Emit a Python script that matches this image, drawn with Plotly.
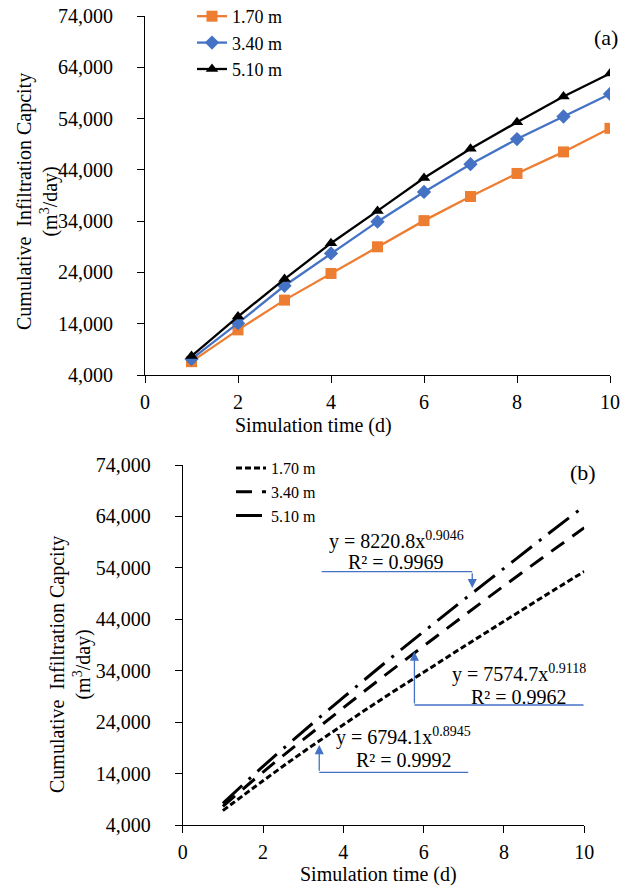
import plotly.graph_objects as go

# ---------------- data ----------------
days = [1, 2, 3, 4, 5, 6, 7, 8, 9, 10]
series_names = ["1.70 m", "3.40 m", "5.10 m"]

# panel (a): simulated cumulative infiltration capacity (m3/day)
cap_170 = [6600, 12800, 18600, 23800, 29000, 34100, 38800, 43300, 47500, 52100]
cap_340 = [7100, 14100, 21400, 27700, 33900, 39700, 45100, 50000, 54400, 58800]
cap_510 = [7700, 15400, 22700, 29700, 36000, 42400, 48100, 53300, 58300, 62800]

# panel (b): power trendlines
trend_170 = [6800, 12600, 18200, 23500, 28700, 33700, 38700, 43600, 48500, 53300]
trend_340 = [7600, 14300, 20600, 26800, 32900, 38800, 44700, 50500, 56200, 61800]
trend_510 = [8200, 15400, 22200, 28800, 35300, 41600, 47800, 53900, 60000, 66000]

eq_texts = ["y = 6794.1x<sup>0.8945</sup>", "y = 7574.7x<sup>0.9118</sup>", "y = 8220.8x<sup>0.9046</sup>"]
r2_texts = ["R² = 0.9992", "R² = 0.9962", "R² = 0.9969"]

y_ticks = [4000, 14000, 24000, 34000, 44000, 54000, 64000, 74000]
x_ticks = [0, 2, 4, 6, 8, 10]

FONT = "Liberation Serif, Times New Roman, serif"
ORANGE = "#ED7D31"
BLUE = "#4472C4"
W, H = 632, 886

fig = go.Figure()

# ---------------- panel (a) ----------------
for vals, name, color, sym, size in [
    (cap_170, series_names[0], ORANGE, "square", 11),
    (cap_340, series_names[1], BLUE, "diamond", 11),
    (cap_510, series_names[2], "black", "triangle-up", 11),
]:
    fig.add_trace(go.Scatter(
        x=days, y=vals, name=name, mode="lines+markers",
        line=dict(color=color, width=2.3),
        marker=dict(symbol=sym, size=size, color=color),
        xaxis="x", yaxis="y", legend="legend",
    ))

# ---------------- panel (b) ----------------
for vals, name, dash in [
    (trend_170, series_names[0], "6px,3px"),
    (trend_340, series_names[1], "16px,10px"),
    (trend_510, series_names[2], "26px,9px,3px,9px"),
]:
    fig.add_trace(go.Scatter(
        x=days, y=vals, name=name, mode="lines",
        line=dict(color="black", width=3, dash=dash, shape="spline"),
        xaxis="x2", yaxis="y2", legend="legend2",
    ))

axis_common = dict(
    showline=True, linecolor="black", linewidth=1, ticks="outside",
    ticklen=7, tickcolor="black", showgrid=False, zeroline=False,
    automargin=False,
    tickfont=dict(family=FONT, size=20, color="black"),
)


def px_x(p):
    return p / W


def px_y(p):
    return (H - p) / H


fig.update_layout(
    width=W, height=H,
    margin=dict(l=0, r=0, t=0, b=0, pad=0, autoexpand=False),
    paper_bgcolor="white", plot_bgcolor="white",
    font=dict(family=FONT, size=20, color="black"),
    xaxis=dict(domain=[px_x(145), px_x(610)], range=[0, 10], tickvals=x_ticks,
               anchor="y", ticklabelstandoff=2, **axis_common),
    yaxis=dict(domain=[px_y(375), px_y(16)], range=[4000, 74000],
               tickvals=y_ticks, tickformat=",", anchor="x", ticklabelstandoff=20,
               **axis_common),
    xaxis2=dict(domain=[px_x(182.7), px_x(584.3)], range=[0, 10], tickvals=x_ticks,
                anchor="y2", ticklabelstandoff=2, **axis_common),
    yaxis2=dict(domain=[px_y(825), px_y(465)], range=[4000, 74000],
                tickvals=y_ticks, tickformat=",", anchor="x2", ticklabelstandoff=20,
                **axis_common),
    legend=dict(x=px_x(192), y=px_y(-2), xanchor="left", yanchor="top",
                bgcolor="rgba(0,0,0,0)", font=dict(family=FONT, size=18),
                tracegroupgap=0),
    legend2=dict(x=px_x(231), y=px_y(451), xanchor="left", yanchor="top",
                 bgcolor="rgba(0,0,0,0)", font=dict(family=FONT, size=16),
                 tracegroupgap=0),
    showlegend=True,
)

ytitle = "Cumulative  Infiltration Capcity<br>(m<sup>3</sup>/day)"
annotations = [
    dict(text=ytitle, x=px_x(37), y=px_y(202), xref="paper", yref="paper",
         textangle=-90, showarrow=False, xanchor="center", yanchor="middle",
         font=dict(family=FONT, size=20)),
    dict(text=ytitle, x=px_x(70), y=px_y(665), xref="paper", yref="paper",
         textangle=-90, showarrow=False, xanchor="center", yanchor="middle",
         font=dict(family=FONT, size=20)),
    dict(text="Simulation time (d)", x=px_x(313), y=px_y(425), xref="paper",
         yref="paper", showarrow=False, xanchor="center", yanchor="middle",
         font=dict(family=FONT, size=20)),
    dict(text="Simulation time (d)", x=px_x(378), y=px_y(874), xref="paper",
         yref="paper", showarrow=False, xanchor="center", yanchor="middle",
         font=dict(family=FONT, size=20)),
    dict(text="(a)", x=px_x(606), y=px_y(37), xref="paper", yref="paper",
         showarrow=False, xanchor="center", yanchor="middle", font=dict(family=FONT, size=22)),
    dict(text="(b)", x=px_x(583), y=px_y(472), xref="paper", yref="paper",
         showarrow=False, xanchor="center", yanchor="middle", font=dict(family=FONT, size=22)),
]

# equation labels in panel (b): (x, eq y, r2 y) in data units
label_pos = [(5.51, 21200, 16650), (8.37, 33550, 28900), (5.32, 59400, 55150)]
for (lx, ey, ry), eq, r2 in zip(label_pos, eq_texts, r2_texts):
    annotations.append(dict(text=eq, x=lx, y=ey, xref="x2", yref="y2", showarrow=False,
                            xanchor="center", yanchor="middle", font=dict(family=FONT, size=20)))
    annotations.append(dict(text=r2, x=lx, y=ry, xref="x2", yref="y2", showarrow=False,
                            xanchor="center", yanchor="middle", font=dict(family=FONT, size=20)))

# leader connectors: (horizontal start x, elbow x, elbow y, arrow tip y)
leaders = [(7.11, 3.40, 14250, 19550), (9.98, 5.77, 27330, 37700), (3.46, 7.21, 53250, 50080)]
shapes = []
for hx, ex, ey, ty in leaders:
    shapes.append(dict(type="line", xref="x2", yref="y2", x0=hx, x1=ex, y0=ey, y1=ey,
                       line=dict(color=BLUE, width=1.3)))
    annotations.append(dict(text="", x=ex, y=ty, xref="x2", yref="y2", ax=ex, ay=ey,
                            axref="x2", ayref="y2", showarrow=True, arrowhead=2,
                            arrowsize=1.4, arrowwidth=1.3, arrowcolor=BLUE))

fig.update_layout(annotations=annotations, shapes=shapes)

fig.write_html(
    "out.html",
    config={"displayModeBar": False},
    post_script="document.body.style.margin='0px';document.body.style.overflow='hidden';",
)
